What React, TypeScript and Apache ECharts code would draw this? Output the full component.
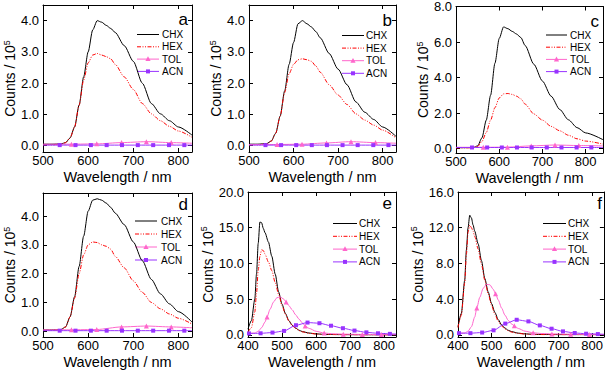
import React, { useEffect, useRef } from 'react';
import * as echarts from 'echarts';

const SOLVENTS = ['CHX', 'HEX', 'TOL', 'ACN'];

// wavelength grids (nm)
const WL_AD = [500, 520, 540, 550, 560, 570, 580, 590, 600, 610, 620, 630, 640, 650, 660, 680, 700, 720, 740, 760, 780, 800, 830];
const WL_C = [500, 520, 540, 550, 560, 570, 580, 590, 600, 610, 620, 630, 640, 650, 660, 680, 700, 720, 740, 760, 780, 800, 840];
const TOL_AD_WL = [500, 563, 619, 674, 729, 784, 830];
const TOL_C_WL = [500, 563, 619, 674, 729, 784, 840];
const TOL_AD_MARKS = [563, 619, 674, 729, 784];
const ACN_AD_WL = [500, 537, 572, 606, 641, 675, 710, 744, 779, 813, 830];
const ACN_C_WL = [500, 537, 572, 606, 641, 675, 710, 744, 779, 813, 840];
const ACN_AD_MARKS = [537, 572, 606, 641, 675, 710, 744, 779, 813];

const WL_EF = [400, 410, 420, 425, 430, 435, 440, 445, 450, 460, 470, 480, 490, 500, 510, 520, 530, 540, 550, 560, 580, 600, 620, 640, 660, 700, 750, 800, 835];
const TOL_EF_WL = [400, 420, 430, 440, 450, 456, 465, 475, 485, 495, 505, 512, 520, 530, 540, 550, 560, 568, 580, 600, 624, 650, 680, 720, 736, 792, 835];
const TOL_EF_MARKS = [456, 512, 568, 624, 680, 736, 792];
const ACN_EF_WL = [403, 437, 472, 506, 541, 575, 610, 644, 679, 713, 748, 782, 817, 835];
const ACN_EF_MARKS = [403, 437, 472, 506, 541, 575, 610, 644, 679, 713, 748, 782, 817];

// counts / 10^5
const CHX_A = [0.05, 0.05, 0.06, 0.1, 0.25, 0.6, 1.3, 2.2, 3.0, 3.7, 4.0, 3.95, 3.85, 3.75, 3.62, 3.2, 2.7, 2.0, 1.35, 1.02, 0.8, 0.6, 0.34];
const HEX_A = [0.03, 0.03, 0.05, 0.1, 0.25, 0.6, 1.3, 2.1, 2.65, 2.9, 2.95, 2.9, 2.85, 2.78, 2.6, 2.2, 1.8, 1.35, 1.02, 0.8, 0.62, 0.47, 0.27];
const TOL_A = [0.05, 0.05, 0.06, 0.1, 0.13, 0.1, 0.08];
const ACN_A = [0.02, 0.02, 0.02, 0.02, 0.02, 0.02, 0.02, 0.02, 0.02, 0.02, 0.02];

const CHX_B = [0.05, 0.05, 0.07, 0.15, 0.4, 0.95, 1.75, 2.6, 3.3, 3.9, 4.0, 3.9, 3.8, 3.65, 3.45, 2.95, 2.45, 1.95, 1.4, 1.07, 0.84, 0.6, 0.3];
const HEX_B = [0.03, 0.03, 0.06, 0.15, 0.4, 0.95, 1.7, 2.3, 2.6, 2.75, 2.78, 2.75, 2.7, 2.55, 2.35, 1.95, 1.62, 1.32, 1.02, 0.82, 0.66, 0.5, 0.25];
const TOL_B = [0.04, 0.04, 0.05, 0.09, 0.13, 0.1, 0.08];
const ACN_B = [0.02, 0.02, 0.02, 0.02, 0.02, 0.02, 0.02, 0.02, 0.02, 0.02, 0.02];

const CHX_C = [0.05, 0.05, 0.06, 0.15, 0.6, 1.6, 3.0, 4.8, 6.2, 6.85, 6.75, 6.6, 6.45, 6.25, 5.8, 4.75, 3.8, 2.95, 2.2, 1.62, 1.18, 0.88, 0.5];
const HEX_C = [0.04, 0.04, 0.05, 0.12, 0.4, 0.9, 1.6, 2.3, 2.85, 3.08, 3.1, 3.05, 2.95, 2.8, 2.5, 1.95, 1.6, 1.25, 1.0, 0.75, 0.55, 0.42, 0.25];
const TOL_C = [0.07, 0.07, 0.08, 0.15, 0.2, 0.17, 0.15];
const ACN_C = [0.06, 0.06, 0.06, 0.06, 0.06, 0.06, 0.06, 0.06, 0.06, 0.06, 0.06];

const CHX_D = [0.05, 0.05, 0.06, 0.15, 0.5, 1.2, 2.25, 3.3, 4.17, 4.55, 4.6, 4.55, 4.45, 4.3, 4.1, 3.7, 3.1, 2.45, 1.8, 1.3, 0.95, 0.68, 0.32];
const HEX_D = [0.03, 0.03, 0.05, 0.15, 0.5, 1.15, 2.0, 2.65, 3.0, 3.1, 3.08, 3.0, 2.95, 2.85, 2.6, 2.2, 1.75, 1.35, 1.0, 0.78, 0.6, 0.45, 0.25];
const TOL_D = [0.05, 0.05, 0.06, 0.15, 0.18, 0.15, 0.12];
const ACN_D = [0.02, 0.02, 0.02, 0.02, 0.02, 0.02, 0.02, 0.02, 0.02, 0.02, 0.02];

const CHX_E = [0.8, 2.0, 5.0, 8.5, 12.8, 15.8, 15.7, 14.9, 14.3, 13.0, 11.0, 8.5, 6.0, 4.3, 3.0, 2.0, 1.35, 0.95, 0.65, 0.45, 0.25, 0.14, 0.08, 0.05, 0.04, 0.03, 0.02, 0.02, 0.02];
const HEX_E = [0.4, 1.0, 3.2, 5.8, 9.0, 11.0, 11.9, 11.8, 11.3, 10.2, 9.0, 7.3, 5.7, 4.1, 2.9, 1.95, 1.3, 0.9, 0.6, 0.42, 0.22, 0.12, 0.07, 0.05, 0.04, 0.03, 0.02, 0.02, 0.02];
const TOL_E = [0.2, 0.25, 0.5, 1.0, 1.8, 2.5, 3.6, 4.6, 5.2, 5.3, 5.0, 4.6, 4.1, 3.5, 2.8, 2.2, 1.65, 1.25, 0.9, 0.5, 0.25, 0.15, 0.1, 0.07, 0.06, 0.04, 0.03];
const ACN_E = [0.2, 0.22, 0.32, 0.55, 1.35, 1.72, 1.63, 1.28, 0.93, 0.6, 0.35, 0.22, 0.14, 0.12];

const CHX_F = [0.9, 2.4, 6.1, 9.5, 12.0, 13.4, 13.1, 12.3, 11.6, 10.2, 8.3, 6.3, 4.8, 3.5, 2.5, 1.7, 1.1, 0.75, 0.5, 0.35, 0.18, 0.1, 0.06, 0.04, 0.03, 0.02, 0.02, 0.02, 0.02];
const HEX_F = [0.8, 2.2, 5.8, 9.0, 11.5, 12.3, 12.0, 11.6, 11.0, 9.6, 7.9, 6.1, 4.6, 3.3, 2.3, 1.5, 1.0, 0.65, 0.45, 0.3, 0.15, 0.08, 0.05, 0.03, 0.02, 0.02, 0.02, 0.02, 0.02];
const TOL_F = [0.15, 0.2, 0.4, 0.9, 2.0, 3.0, 4.2, 5.2, 5.65, 5.6, 5.1, 4.6, 3.9, 3.0, 2.2, 1.6, 1.2, 1.0, 0.7, 0.4, 0.22, 0.14, 0.1, 0.07, 0.06, 0.04, 0.03];
const ACN_F = [0.18, 0.18, 0.25, 0.5, 1.25, 1.68, 1.5, 1.05, 0.68, 0.38, 0.2, 0.12, 0.08, 0.06];

// axis ticks
const X_TICKS_AD = [500, 600, 700, 800];
const X_TICKS_EF = [400, 500, 600, 700, 800];
const Y_TICKS_AB = [0, 1, 2, 3, 4];
const Y_TICKS_C = [0, 2, 4, 6, 8];
const Y_TICKS_E = [0, 5, 10, 15, 20];
const Y_TICKS_F = [0, 4, 8, 12, 16];

const PANELS = [
  { letter: 'a', wl: WL_AD, chx: CHX_A, hex: HEX_A, tolWl: TOL_AD_WL, tol: TOL_A, tolMarks: TOL_AD_MARKS, acnWl: ACN_AD_WL, acn: ACN_A, acnMarks: ACN_AD_MARKS, x: [500, 830], xTicks: X_TICKS_AD, y: [-0.2, 4.5], yTicks: Y_TICKS_AB },
  { letter: 'b', wl: WL_AD, chx: CHX_B, hex: HEX_B, tolWl: TOL_AD_WL, tol: TOL_B, tolMarks: TOL_AD_MARKS, acnWl: ACN_AD_WL, acn: ACN_B, acnMarks: ACN_AD_MARKS, x: [500, 830], xTicks: X_TICKS_AD, y: [-0.2, 4.5], yTicks: Y_TICKS_AB },
  { letter: 'c', wl: WL_C, chx: CHX_C, hex: HEX_C, tolWl: TOL_C_WL, tol: TOL_C, tolMarks: TOL_AD_MARKS, acnWl: ACN_C_WL, acn: ACN_C, acnMarks: ACN_AD_MARKS, x: [500, 840], xTicks: X_TICKS_AD, y: [-0.25, 8], yTicks: Y_TICKS_C },
  { letter: 'd', wl: WL_AD, chx: CHX_D, hex: HEX_D, tolWl: TOL_AD_WL, tol: TOL_D, tolMarks: TOL_AD_MARKS, acnWl: ACN_AD_WL, acn: ACN_D, acnMarks: ACN_AD_MARKS, x: [500, 830], xTicks: X_TICKS_AD, y: [-0.2, 4.8], yTicks: Y_TICKS_AB },
  { letter: 'e', wl: WL_EF, chx: CHX_E, hex: HEX_E, tolWl: TOL_EF_WL, tol: TOL_E, tolMarks: TOL_EF_MARKS, acnWl: ACN_EF_WL, acn: ACN_E, acnMarks: ACN_EF_MARKS, x: [400, 835], xTicks: X_TICKS_EF, y: [-0.3, 20], yTicks: Y_TICKS_E },
  { letter: 'f', wl: WL_EF, chx: CHX_F, hex: HEX_F, tolWl: TOL_EF_WL, tol: TOL_F, tolMarks: TOL_EF_MARKS, acnWl: ACN_EF_WL, acn: ACN_F, acnMarks: ACN_EF_MARKS, x: [400, 835], xTicks: X_TICKS_EF, y: [-0.25, 16], yTicks: Y_TICKS_F },
];

// layout (px)
const GRIDS = [
  { left: 43, top: 5, width: 149, height: 147 },
  { left: 249, top: 5, width: 147, height: 147 },
  { left: 456, top: 5, width: 147, height: 148 },
  { left: 43, top: 193, width: 149, height: 144 },
  { left: 248, top: 192, width: 148, height: 145 },
  { left: 458, top: 192, width: 146, height: 145 },
];
// legend: x of line start, line length, x of text, y of first row, row step
const LEGEND_POS = [
  { x: 137, len: 22, tx: 162, y: 34.5, step: 12.3 },
  { x: 342, len: 22, tx: 366, y: 35.5, step: 12.6 },
  { x: 546, len: 21, tx: 570, y: 35, step: 12.2 },
  { x: 135, len: 22, tx: 161, y: 221, step: 13 },
  { x: 333, len: 24, tx: 359, y: 223.5, step: 12.8 },
  { x: 543, len: 23, tx: 568, y: 223.5, step: 12.8 },
];
const LETTER_POS = [
  { x: 188, y: 19 },
  { x: 392, y: 20 },
  { x: 599, y: 21 },
  { x: 188, y: 204 },
  { x: 392, y: 203 },
  { x: 602, y: 203 },
];

const FONT = '"Liberation Sans", Arial, Helvetica, sans-serif';
const COLORS: Record<string, string> = { CHX: '#000000', HEX: '#ff0000', TOL: '#ff66cc', ACN: '#9933ff' };
const DASH: Record<string, number[] | undefined> = { CHX: undefined, HEX: [4, 1.5, 1, 1.5, 1, 1.5], TOL: undefined, ACN: undefined };

function mk(wl: number[], vals: number[], marks?: number[]) {
  return wl.map((x, i) =>
    marks && marks.includes(x) ? [x, vals[i]] : { value: [x, vals[i]], symbol: 'none' }
  );
}

function legendGraphics(pos: { x: number; len: number; tx: number; y: number; step: number }) {
  const els: any[] = [];
  SOLVENTS.forEach((name, k) => {
    const y = pos.y + k * pos.step;
    const c = COLORS[name];
    els.push({
      type: 'line', silent: true,
      shape: { x1: pos.x, y1: y, x2: pos.x + pos.len, y2: y },
      style: { stroke: c, lineWidth: 1, lineDash: DASH[name] || null },
    });
    const cx = pos.x + pos.len / 2;
    if (name === 'TOL') {
      els.push({
        type: 'polygon', silent: true,
        shape: { points: [[cx, y - 2.8], [cx - 2.6, y + 2], [cx + 2.6, y + 2]] },
        style: { fill: c },
      });
    } else if (name === 'ACN') {
      els.push({
        type: 'rect', silent: true,
        shape: { x: cx - 2, y: y - 2, width: 4, height: 4 },
        style: { fill: c },
      });
    }
    els.push({
      type: 'text', silent: true, x: pos.tx, y,
      style: {
        text: name, fontSize: 10, fontFamily: FONT, fill: '#000',
        textAlign: 'left', textVerticalAlign: 'middle', align: 'left', verticalAlign: 'middle',
      },
    });
  });
  return els;
}

function buildOption() {
  const xAxis: any[] = [];
  const yAxis: any[] = [];
  const series: any[] = [];
  const graphic: any[] = [];
  const grid = GRIDS.map((g) => ({ ...g, containLabel: false }));

  PANELS.forEach((p, i) => {
    const tick = { inside: true, length: 4, lineStyle: { color: '#000', width: 1 } };
    const line = { onZero: false, lineStyle: { color: '#000', width: 1 } };
    xAxis.push({
      type: 'value', gridIndex: i, position: 'bottom', min: p.x[0], max: p.x[1],
      axisLine: line,
      axisTick: { ...tick, customValues: p.xTicks },
      axisLabel: { customValues: p.xTicks, fontSize: 13, lineHeight: 11, fontFamily: FONT, color: '#000', margin: 3 },
      splitLine: { show: false },
      name: 'Wavelength / nm', nameLocation: 'middle', nameGap: 17,
      nameTextStyle: { fontSize: 14.5, fontFamily: FONT, color: '#000' },
    });
    xAxis.push({
      type: 'value', gridIndex: i, position: 'top', min: p.x[0], max: p.x[1],
      axisLine: line,
      axisTick: { ...tick, customValues: p.xTicks },
      axisLabel: { show: false },
      splitLine: { show: false },
    });
    yAxis.push({
      type: 'value', gridIndex: i, position: 'left', min: p.y[0], max: p.y[1],
      axisLine: line,
      axisTick: { ...tick, customValues: p.yTicks },
      axisLabel: {
        customValues: p.yTicks, fontSize: 13, lineHeight: 11, fontFamily: FONT, color: '#000', margin: 4,
        formatter: (v: number) => v.toFixed(1),
      },
      splitLine: { show: false },
      name: 'Counts / 10{sup|5}', nameLocation: 'middle', nameGap: 22,
      nameTextStyle: {
        fontSize: 14, fontFamily: FONT, color: '#000',
        rich: { sup: { fontSize: 9, fontFamily: FONT, color: '#000', verticalAlign: 'top', lineHeight: 16 } },
      },
    });
    yAxis.push({
      type: 'value', gridIndex: i, position: 'right', min: p.y[0], max: p.y[1],
      axisLine: line,
      axisTick: { ...tick, customValues: p.yTicks },
      axisLabel: { show: false },
      splitLine: { show: false },
    });

    const base = {
      type: 'line', xAxisIndex: 2 * i, yAxisIndex: 2 * i, smooth: 0.25, smoothMonotone: 'x',
      showAllSymbol: true, clip: true,
    };
    series.push({
      ...base, name: 'CHX', data: mk(p.wl, p.chx), symbol: 'none',
      lineStyle: { color: COLORS.CHX, width: 1 }, itemStyle: { color: COLORS.CHX },
    });
    series.push({
      ...base, name: 'HEX', data: mk(p.wl, p.hex), symbol: 'none',
      lineStyle: { color: COLORS.HEX, width: 1, type: DASH.HEX }, itemStyle: { color: COLORS.HEX },
    });
    series.push({
      ...base, name: 'TOL', data: mk(p.tolWl, p.tol, p.tolMarks), symbol: 'triangle', symbolSize: 5,
      lineStyle: { color: COLORS.TOL, width: 1 }, itemStyle: { color: COLORS.TOL },
    });
    series.push({
      ...base, name: 'ACN', data: mk(p.acnWl, p.acn, p.acnMarks), symbol: 'rect', symbolSize: 4,
      lineStyle: { color: COLORS.ACN, width: 1 }, itemStyle: { color: COLORS.ACN },
    });

    graphic.push(...legendGraphics(LEGEND_POS[i]));
    graphic.push({
      type: 'text', silent: true, x: LETTER_POS[i].x, y: LETTER_POS[i].y,
      style: {
        text: p.letter, fontSize: 17, fontFamily: FONT, fill: '#000',
        textAlign: 'right', textVerticalAlign: 'middle', align: 'right', verticalAlign: 'middle',
      },
    });
  });

  return { animation: false, backgroundColor: '#fff', grid, xAxis, yAxis, series, graphic };
}

export default function App() {
  const ref = useRef<HTMLDivElement>(null);
  useEffect(() => {
    if (!ref.current) return;
    const chart = echarts.init(ref.current, undefined, { renderer: 'svg' });
    chart.setOption(buildOption() as any);
    return () => chart.dispose();
  }, []);
  return <div ref={ref} style={{ position: 'absolute', left: 0, top: 0, width: 606, height: 371 }} />;
}
